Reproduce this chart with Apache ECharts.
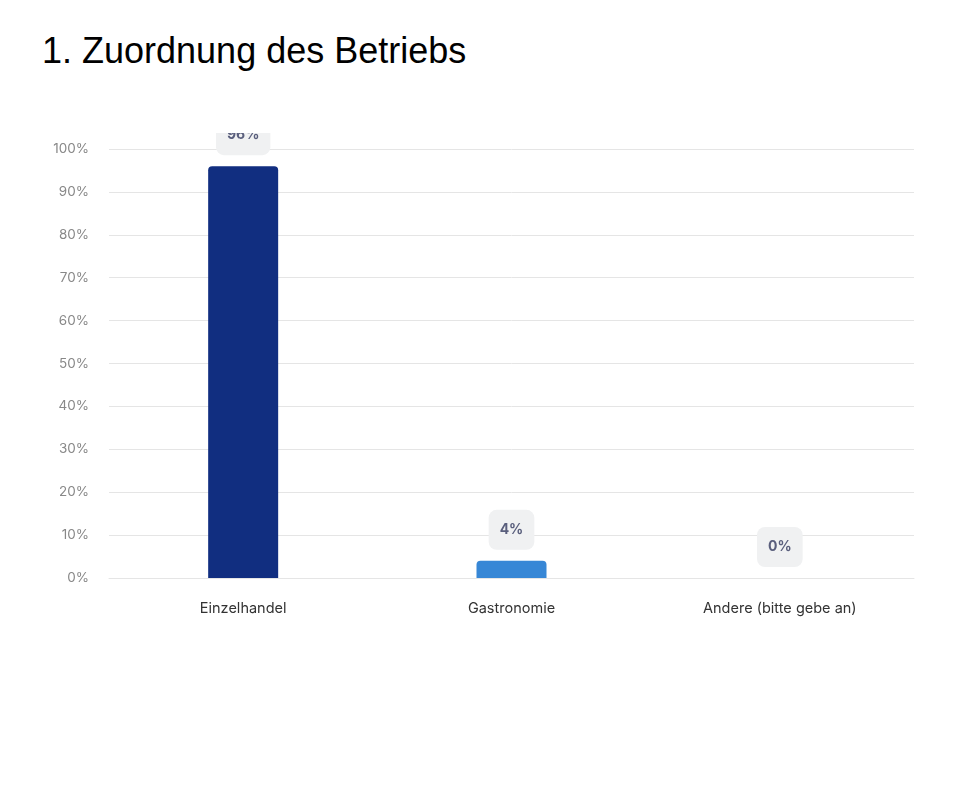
<!DOCTYPE html>
<html>
<head>
<meta charset="utf-8">
<script src="https://cdn.jsdelivr.net/npm/echarts@6/dist/echarts.min.js"></script>
<style>
  html, body { margin: 0; padding: 0; background: #fff; width: 967px; height: 802px; overflow: hidden; }
  #title { position: absolute; left: 42px; top: 31px; margin: 0; font-family: "Liberation Sans", Arial, sans-serif; font-weight: normal; font-size: 36px; color: #000; line-height: 40px; }
  #chart { position: absolute; left: 0; top: 133px; width: 967px; height: 669px; }
</style>
</head>
<body>
<h1 id="title">1. Zuordnung des Betriebs</h1>
<div id="chart"></div>
<script>
const categories = ["Einzelhandel", "Gastronomie", "Andere (bitte gebe an)"];
const values = [96, 4, 0];
const barColors = ["#112e80", "#3787d6", "#3787d6"];
const yMax = 100;
const yInterval = 10;

const chart = echarts.init(document.getElementById('chart'));
chart.setOption({
  animation: false,
  grid: { left: 109, right: 53, top: 16, bottom: 224, containLabel: false },
  xAxis: {
    type: 'category',
    data: categories,
    axisLine: { show: true, lineStyle: { color: '#e5e5e5' } },
    axisTick: { show: false },
    axisLabel: { color: '#333', fontFamily: 'Inter', fontSize: 14.5, margin: 23 }
  },
  yAxis: {
    type: 'value',
    min: 0,
    max: yMax,
    interval: yInterval,
    axisLine: { show: false },
    axisTick: { show: false },
    splitLine: { lineStyle: { color: '#e5e5e5' } },
    axisLabel: { color: '#888', fontFamily: 'Inter', fontSize: 13.5, margin: 20, formatter: '{value}%' }
  },
  series: [{
    type: 'bar',
    barWidth: 70,
    data: values.map((v, i) => ({ value: v, itemStyle: { color: barColors[i] } })),
    itemStyle: { borderRadius: [4, 4, 0, 0] },
    label: {
      show: true,
      position: 'top',
      distance: 11,
      formatter: '{c}%',
      color: '#5a5f7d',
      fontFamily: 'Inter',
      fontWeight: 'bold',
      fontSize: 14,
      backgroundColor: '#f0f1f2',
      borderRadius: 8,
      padding: [13, 11, 13, 11]
    }
  }]
});
</script>
</body>
</html>
